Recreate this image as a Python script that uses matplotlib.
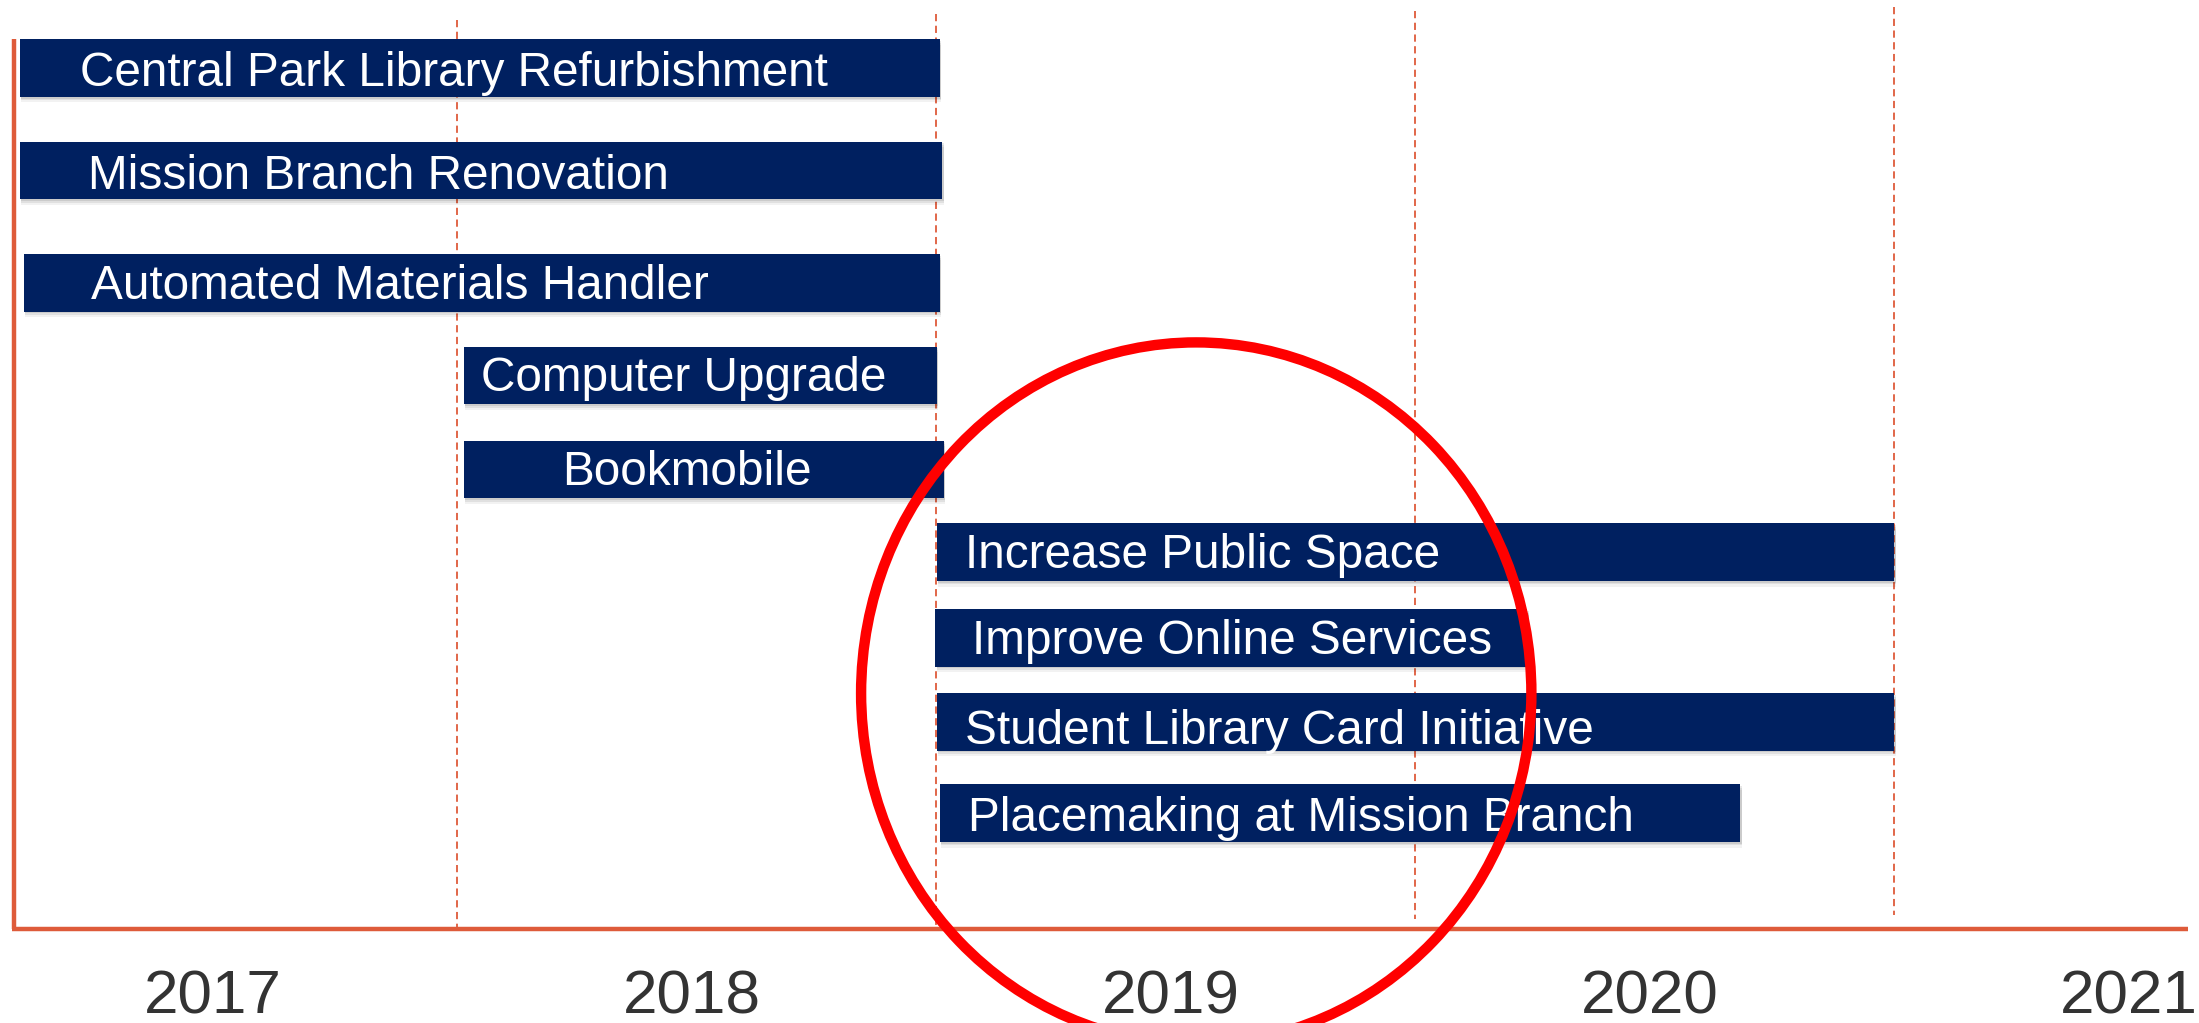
import matplotlib
matplotlib.use('Agg')
from matplotlib import pyplot
from matplotlib.patches import Ellipse, Rectangle

matplotlib.rcParams['font.family'] = ['Liberation Sans', 'DejaVu Sans']

# projects and their time spans (in years)
projects = ['Central Park Library Refurbishment', 'Mission Branch Renovation',
            'Automated Materials Handler', 'Computer Upgrade', 'Bookmobile',
            'Increase Public Space', 'Improve Online Services',
            'Student Library Card Initiative', 'Placemaking at Mission Branch']
starts = [2016.596, 2016.596, 2016.605, 2017.524, 2017.524,
          2018.511, 2018.508, 2018.511, 2018.517]
ends = [2018.517, 2018.523, 2018.517, 2018.511, 2018.526,
        2020.511, 2019.744, 2020.511, 2020.189]
years = [2017, 2018, 2019, 2020, 2021]

# layout (vertical units are pixels of a 729 px high canvas, top down)
row_top = [28, 101, 181, 247, 314, 373, 434, 494, 559]
bar_h = 41
text_pad = [43, 49, 48, 12, None, 20, 26, 20, 20]
text_dy = [4, 4, 2.5, 2.5, 2.5, 2.5, 2.5, 6.5, 3.5]
grid_top = [14, 10, 8, 5]
grid_bottom = [662, 662, 655, 652]
px_per_year = 341.5

navy = '#002060'
axis_col = '#DE5B3A'

fig = pyplot.figure(figsize=[21.99, 10.23], dpi=100)
ax = fig.add_axes([0, 0, 1, 1])
ax.set_xlim(2016.555, 2021.147)
ax.set_ylim(729, 0)
ax.axis('off')

# dashed year boundaries
for i, y in enumerate(years[:-1]):
    ax.plot([y + 0.51, y + 0.51], [grid_top[i], grid_bottom[i]],
            color=axis_col, lw=1.3, ls=(0, (4, 2.5)), zorder=1)

# bars with a soft shadow
for i, name in enumerate(projects):
    top = row_top[i]
    w = ends[i] - starts[i]
    for k, a in [(4, 0.05), (2.5, 0.07), (1.2, 0.09)]:
        ax.add_patch(Rectangle((starts[i] + 1 / px_per_year, top + k),
                               w, bar_h, color='black', alpha=a, lw=0, zorder=2))
    ax.add_patch(Rectangle((starts[i], top), w, bar_h, color=navy, lw=0, zorder=3))
    yc = top + bar_h / 2 + text_dy[i]
    if text_pad[i] is None:
        ax.text(starts[i] + w / 2 - 12 / px_per_year, yc, name, color='white',
                fontsize=34.4, ha='center', va='center', zorder=4)
    else:
        ax.text(starts[i] + text_pad[i] / px_per_year, yc, name, color='white',
                fontsize=34.4, ha='left', va='center', zorder=4)

# axis lines
x_left = 2016.584
ax.plot([x_left, x_left], [28, 662], color=axis_col, lw=3.2, zorder=5,
        solid_capstyle='butt')
ax.plot([x_left - 1.5 / px_per_year, 2021.123], [662, 662], color=axis_col,
        lw=3.2, zorder=5, solid_capstyle='butt')

for y in years:
    ax.text(y, 711, str(y), color='#333333', fontsize=44.7, ha='center', va='center')

# highlight ring
ax.add_patch(Ellipse((2019.053, 494), 478 / px_per_year, 500, fill=False,
                     edgecolor='#FF0000', lw=7.5, zorder=6, clip_on=False))

fig.savefig('out.png', dpi=100)
